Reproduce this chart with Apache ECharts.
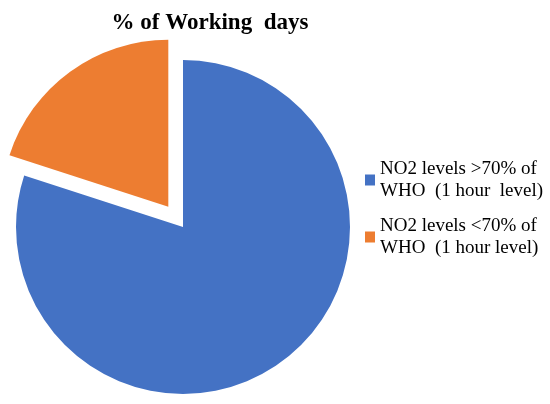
<!DOCTYPE html>
<html>
<head>
<meta charset="utf-8">
<script src="https://cdn.jsdelivr.net/npm/echarts@6/dist/echarts.min.js"></script>
<style>
  html, body { margin: 0; padding: 0; background: #fff; }
  #chart { width: 550px; height: 404px; }
</style>
</head>
<body>
<div id="chart"></div>
<script>
const categories = ['NO2 levels >70% of\nWHO  (1 hour  level)', 'NO2 levels <70% of\nWHO  (1 hour level)']
const values = [80, 20]
const colors = ['#4472C4', '#ED7D31']

const chart = echarts.init(document.getElementById('chart'))
chart.setOption({
  animation: false,
  title: {
    text: '% of Working  days',
    left: 205,
    textAlign: 'center',
    top: 7,
    textStyle: {
      fontFamily: 'Liberation Serif',
      fontWeight: 'bold',
      fontSize: 23,
      color: '#000'
    }
  },
  // legend: icon sits on the first line of each two-line label
  legend: {
    orient: 'vertical',
    left: 360,
    top: 142,
    icon: 'rect',
    itemWidth: 10,
    itemHeight: 11,
    itemGap: -9,
    selectedMode: false,
    data: categories,
    textStyle: {
      fontFamily: 'Liberation Serif',
      fontSize: 19,
      lineHeight: 22,
      color: '#000',
      padding: [22, 0, 0, 0]
    }
  },
  series: [{
    type: 'pie',
    center: [183, 227],
    radius: 167,
    startAngle: 90,
    selectedMode: 'single',
    selectedOffset: 25,
    label: { show: false },
    labelLine: { show: false },
    emphasis: { disabled: true },
    data: categories.map((name, i) => ({
      name: name,
      value: values[i],
      selected: i === 1,
      itemStyle: { color: colors[i] }
    }))
  }]
})
</script>
</body>
</html>
